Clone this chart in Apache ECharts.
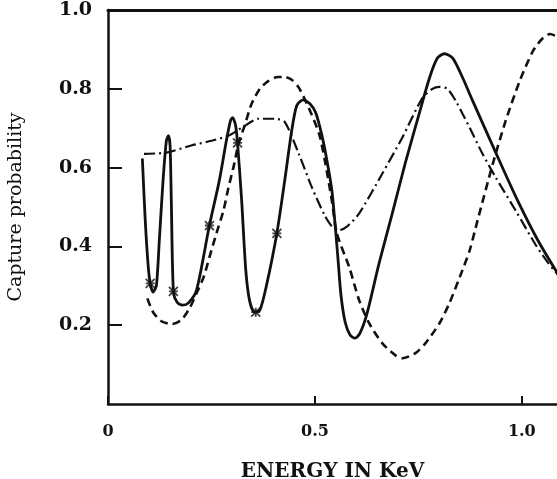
<!DOCTYPE html>
<html><head><meta charset="utf-8">
<script src="https://cdn.jsdelivr.net/npm/echarts@6/dist/echarts.min.js"></script>
<style>html,body{margin:0;padding:0;background:#fff}#c{width:557px;height:479px}</style>
</head><body><div id="c"></div>
<script>
// Solid curve (energy KeV, capture probability)
const solidX = [0.083,0.090,0.097,0.102,0.109,0.117,0.124,0.133,0.141,0.146,0.150,0.153,0.158,0.167,0.180,0.194,0.214,0.245,0.269,0.286,0.296,0.301,0.308,0.313,0.323,0.333,0.342,0.354,0.367,0.383,0.408,0.427,0.444,0.456,0.471,0.488,0.502,0.517,0.529,0.541,0.549,0.556,0.563,0.573,0.585,0.597,0.609,0.626,0.655,0.687,0.718,0.752,0.777,0.796,0.813,0.833,0.857,0.881,0.937,0.990,1.039,1.092];
const solidY = [0.623,0.466,0.352,0.306,0.284,0.301,0.415,0.567,0.668,0.681,0.656,0.516,0.286,0.258,0.251,0.256,0.289,0.453,0.567,0.668,0.719,0.727,0.709,0.663,0.516,0.339,0.263,0.233,0.238,0.301,0.433,0.567,0.694,0.757,0.772,0.762,0.739,0.681,0.618,0.542,0.453,0.365,0.276,0.208,0.175,0.167,0.180,0.230,0.357,0.484,0.610,0.737,0.828,0.878,0.889,0.878,0.828,0.770,0.638,0.516,0.415,0.322];
// Dashed curve
const dashX = [0.095,0.109,0.129,0.155,0.177,0.197,0.214,0.231,0.245,0.262,0.279,0.291,0.303,0.316,0.330,0.347,0.367,0.388,0.410,0.427,0.444,0.461,0.485,0.510,0.524,0.541,0.553,0.583,0.607,0.631,0.663,0.694,0.711,0.743,0.767,0.801,0.825,0.850,0.874,0.893,0.930,0.961,0.995,1.027,1.051,1.068,1.092];
const dashY = [0.268,0.233,0.210,0.203,0.213,0.243,0.281,0.322,0.372,0.433,0.491,0.549,0.600,0.663,0.706,0.762,0.800,0.820,0.830,0.830,0.823,0.803,0.752,0.686,0.618,0.516,0.433,0.347,0.263,0.205,0.154,0.124,0.116,0.129,0.154,0.205,0.256,0.322,0.390,0.466,0.610,0.719,0.820,0.896,0.929,0.939,0.929];
// Dash-dot curve
const dotX = [0.087,0.141,0.201,0.250,0.291,0.323,0.364,0.403,0.427,0.461,0.493,0.524,0.541,0.558,0.578,0.607,0.663,0.711,0.760,0.784,0.801,0.820,0.840,0.874,0.905,0.937,0.985,1.034,1.063,1.092];
const dotY = [0.635,0.638,0.656,0.668,0.681,0.701,0.724,0.724,0.716,0.635,0.549,0.478,0.451,0.441,0.451,0.484,0.585,0.676,0.777,0.800,0.805,0.800,0.770,0.701,0.635,0.575,0.491,0.403,0.359,0.322];
// Star markers on solid curve
const starX = [0.102,0.158,0.245,0.313,0.357,0.408];
const starY = [0.306,0.286,0.453,0.663,0.233,0.433];
const xTicks = [0, 0.5, 1.0];
const yTicks = [0.2, 0.4, 0.6, 0.8, 1.0];

const zip = (a,b)=>a.map((v,i)=>[v,b[i]]);
const chart = echarts.init(document.getElementById('c'));
const ink = '#111';
chart.setOption({
  backgroundColor:'#fff',
  animation:false,
  grid:{left:108,right:0,top:10,bottom:75,containLabel:false,outerBoundsMode:'none'},
  xAxis:[{
    type:'value',min:0,max:1.085,interval:0.5,
    axisLine:{show:true,lineStyle:{color:ink,width:2.5}},
    axisTick:{show:true,inside:true,length:8,lineStyle:{color:ink,width:2}},
    splitLine:{show:false},
    axisLabel:{showMaxLabel:false,margin:20,color:ink,fontFamily:'DejaVu Serif',fontWeight:'bold',fontSize:16,
      formatter:v=>xTicks.indexOf(v)<0?'':(v===0?'0':v.toFixed(1))},
    name:'ENERGY IN KeV',nameLocation:'middle',nameGap:58,
    nameTextStyle:{color:ink,fontFamily:'DejaVu Serif',fontWeight:'bold',fontSize:20}
  },{
    type:'value',position:'top',min:0,max:1.085,
    axisLine:{show:true,lineStyle:{color:ink,width:3}},
    axisTick:{show:false},axisLabel:{show:false},splitLine:{show:false}
  }],
  yAxis:{
    type:'value',min:0,max:1,interval:0.2,
    axisLine:{show:true,lineStyle:{color:ink,width:2.5}},
    axisTick:{show:true,inside:true,length:14,lineStyle:{color:ink,width:2}},
    splitLine:{show:false},
    axisLabel:{showMinLabel:false,margin:16,color:ink,fontFamily:'DejaVu Serif',fontWeight:'bold',fontSize:19,
      formatter:v=>yTicks.some(t=>Math.abs(t-v)<1e-9)?v.toFixed(1):''},
    name:'Capture probability',nameLocation:'middle',nameGap:82,nameRotate:90,
    nameTextStyle:{color:ink,fontFamily:'DejaVu Serif',fontSize:19}
  },
  series:[
    {type:'line',data:zip(solidX,solidY),showSymbol:false,smooth:0.25,
      lineStyle:{color:ink,width:2.8},z:3},
    {type:'line',data:zip(dashX,dashY),showSymbol:false,smooth:0.25,
      lineStyle:{color:ink,width:2.6,type:[8,5]},z:2},
    {type:'line',data:zip(dotX,dotY),showSymbol:false,smooth:0.25,
      lineStyle:{color:ink,width:2.2,type:[11,4,2,4]},z:2},
    {type:'scatter',data:zip(starX,starY),symbol:'path://M0,0L10,10M10,0L0,10M5,0L5,10M0,5L10,5',symbolSize:9,
      itemStyle:{color:'rgba(0,0,0,0)',borderColor:ink,borderWidth:1.8},z:4}
  ]
});
</script></body></html>
